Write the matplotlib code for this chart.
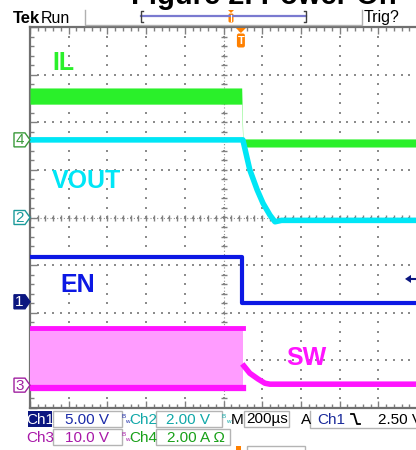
import numpy as np
import matplotlib
matplotlib.use('Agg')
import matplotlib.pyplot as plt
from matplotlib.patches import Polygon, Rectangle, FancyBboxPatch

# scope screen, values in divisions (x: 0..10 time div, y: -4..4 vertical div)
# IL (ch4) noisy band, top / bottom envelope
t_il = [0, 5.47, 5.50, 10]
il_top = [2.72, 2.72, 1.65, 1.65]
il_bot = [2.38, 2.38, 1.48, 1.48]

# VOUT (ch2)
t_vout = [0, 5.50, 5.68, 5.87, 6.02, 6.20, 6.33, 6.50, 10]
vout = [1.63, 1.63, 1.00, 0.58, 0.30, 0.05, -0.09, -0.06, -0.06]

# EN (ch1)
t_en = [0, 5.48, 5.48, 10]
en = [-0.82, -0.82, -1.80, -1.80]

# SW (ch3): switching band then decay
t_sw_band = [0, 5.50]
sw_top = [-2.32, -2.32]
sw_bot = [-3.58, -3.58]
t_sw_tail = [5.53, 5.68, 5.89, 6.07, 6.20, 10]
sw_tail = [-3.12, -3.27, -3.39, -3.48, -3.50, -3.50]

# channel ground markers (div) and trigger level
ch_names = ['1', '2', '3', '4']
ch_offsets = [-1.77, 0.0, -3.52, 1.63]
trig_level = -1.29
trig_pos = 5.45

labels = ['IL', 'VOUT', 'EN', 'SW']
label_pos = [(0.57, 3.25), (0.57, 0.77), (0.78, -1.41), (6.62, -2.94)]

c_il = '#2af02a'
c_vout = '#00e6f6'
c_en = '#0c18e4'
c_sw = '#ff14ff'
c_orange = '#ff8000'
narrow = ['Liberation Sans Narrow', 'Liberation Sans', 'DejaVu Sans']
sans = ['Liberation Sans', 'DejaVu Sans']

W, H = 416, 450
fig = plt.figure(figsize=(W / 100, H / 100), dpi=100)
fig.patch.set_facecolor('white')

ax = fig.add_axes([30 / W, 1 - 408 / H, 387 / W, 381 / H])
ax.set_xlim(0, 10)
ax.set_ylim(-4, 4)
for s in ['left', 'top', 'bottom']:
    ax.spines[s].set_color('#707070')
    ax.spines[s].set_linewidth(1.6)
ax.spines['right'].set_visible(False)
ax.set_xticks(np.arange(0, 10.01, 1))
ax.set_xticks(np.arange(0, 10.01, 0.2), minor=True)
ax.set_yticks(np.arange(-4, 4.01, 1))
ax.set_yticks(np.arange(-4, 4.01, 0.2), minor=True)
ax.tick_params(which='both', direction='in', top=True, bottom=True, left=True,
               right=False, labelbottom=False, labelleft=False, color='#808080', width=1)
ax.tick_params(which='major', length=5)
ax.tick_params(which='minor', length=3)

# dotted graticule
gx, gy = np.meshgrid(np.arange(1, 10), np.arange(-4, 4.01, 0.2))
ax.scatter(gx.ravel(), gy.ravel(), s=1.3, marker='s', color='#8c8c8c', lw=0, zorder=1)
gx, gy = np.meshgrid(np.arange(0, 10.01, 0.2), np.arange(-3, 4))
ax.scatter(gx.ravel(), gy.ravel(), s=1.3, marker='s', color='#8c8c8c', lw=0, zorder=1)
# centre crosshair
ax.axhline(0, ls=(0, (1, 2)), lw=0.8, color='#909090', zorder=1)
ax.axvline(5, ls=(0, (1, 2)), lw=0.8, color='#909090', zorder=1)
mx = np.arange(0, 10.01, 0.2)
ax.scatter(mx, np.zeros_like(mx), marker='|', s=14, color='#808080', lw=1, zorder=1)
my = np.arange(-4, 4.01, 0.2)
ax.scatter(np.full_like(my, 5), my, marker='_', s=14, color='#808080', lw=1, zorder=1)

# traces
ax.fill_between(t_il, il_bot, il_top, color=c_il, lw=0, zorder=3)
ax.plot(t_vout, vout, color=c_vout, lw=4, solid_joinstyle='round', zorder=4)
ax.plot(t_en, en, color=c_en, lw=3, zorder=4)
ax.fill_between(t_sw_band, sw_bot, sw_top, color='#ff9cff', lw=0, zorder=3)
ax.plot(t_sw_band, sw_top, color=c_sw, lw=3.5, zorder=4)
ax.plot(t_sw_band, sw_bot, color=c_sw, lw=4.5, zorder=4)
ax.plot(t_sw_tail, sw_tail, color=c_sw, lw=4, zorder=4)

for txt, (x, y), c in zip(labels, label_pos, [c_il, c_vout, c_en, c_sw]):
    ax.text(x, y, txt, color=c, fontsize=18, fontweight='bold', family=narrow,
            ha='left', va='center', zorder=6)

# overlay in pixel coords for the scope UI
ov = fig.add_axes([0, 0, 1, 1], zorder=5)
ov.set_xlim(0, W)
ov.set_ylim(H, 0)
ov.axis('off')
ov.patch.set_alpha(0)


def to_px(xd, yd):
    X, Y = ax.transData.transform((xd, yd))
    return X, H - Y


# channel markers
mk_style = {'1': ('#0b1680', '#0b1680', 'white'),
            '2': ('white', '#1a9a9a', '#1a9a9a'),
            '3': ('white', '#a020a0', '#a020a0'),
            '4': ('white', '#3a9a3a', '#3a9a3a')}
for name, off in zip(ch_names, ch_offsets):
    _, py = to_px(0, off)
    fc, ec, tc = mk_style[name]
    ov.add_patch(Polygon([(14, py - 7), (25, py - 7), (30, py), (25, py + 7), (14, py + 7)],
                         closed=True, fc=fc, ec=ec, lw=1))
    ov.text(19.5, py + 0.5, name, color=tc, fontsize=11, family=sans, ha='center', va='center')

# trigger level arrow on right
_, ty = to_px(0, trig_level)
ov.add_patch(Polygon([(405, ty), (411, ty - 4), (411, ty + 4)], closed=True, fc='#0b1680', ec='none'))
ov.plot([410, 416], [ty, ty], color='#0b1680', lw=1.5)

# trigger position marker under top border
tx, _ = to_px(trig_pos, 0)
ov.add_patch(Polygon([(tx - 5, 28), (tx + 5, 28), (tx, 33)], closed=True, fc=c_orange, ec='none'))
ov.add_patch(FancyBboxPatch((tx - 3.5, 34), 7, 13, boxstyle='round,pad=0.5,rounding_size=2',
                            fc=c_orange, ec='none'))
ov.text(tx, 41, 'T', color='white', fontsize=8, fontweight='bold', family=sans,
        ha='center', va='center')

# header
fig.text(264 / W, 1 - 4.5 / H, 'Figure 2. Power On', ha='center', va='baseline',
         fontsize=21, fontweight='bold', family=sans)
ov.text(13, 23, 'Tek', fontsize=12, fontweight='bold', family=narrow, va='baseline')
ov.text(41, 23, 'Run', fontsize=11.5, family=narrow, va='baseline')
ov.plot([85, 85, 362, 362], [10, 24.5, 24.5, 10], color='#b0b0b0', lw=1)
ov.plot([141, 306], [16, 16], color='#7a7ad0', lw=1.6)
ov.plot([143, 141, 141, 143], [11, 11, 22, 22], color='#404040', lw=1)
ov.plot([304, 306, 306, 304], [11, 11, 22, 22], color='#404040', lw=1)
ov.add_patch(Polygon([(228, 10), (234, 10), (231, 13)], closed=True, fc=c_orange, ec='none'))
ov.add_patch(FancyBboxPatch((229, 14), 4, 8, boxstyle='round,pad=0.5,rounding_size=1.5',
                            fc=c_orange, ec='none'))
ov.plot([231, 231], [15, 21], color='white', lw=0.8)
ov.text(364, 22, 'Trig?', fontsize=11.5, family=narrow, va='baseline')

# status bar
box_ec = '#b4b4b4'
fs = 11
y1, y2 = 419.5, 437.5
ov.add_patch(Rectangle((28, 411), 24, 16, fc='#0b1680', ec='none'))
ov.text(40, y1, 'Ch1', color='white', fontsize=fs, family=narrow, ha='center', va='center')
ov.add_patch(Rectangle((53, 411), 69, 16, fc='none', ec=box_ec, lw=1))
ov.text(87, y1, '5.00 V', color='#1a2aa8', fontsize=fs, family=narrow, ha='center', va='center')
ov.text(123.5, y1 - 3, 'B', color='#1a2aa8', fontsize=4.5, family=sans, ha='center', va='center')
ov.text(127, y1 + 2, 'w', color='#1a2aa8', fontsize=4.5, family=sans, ha='center', va='center')
ov.text(143, y1, 'Ch2', color='#10a8a8', fontsize=fs, family=narrow, ha='center', va='center')
ov.add_patch(Rectangle((156, 411), 66, 16, fc='none', ec=box_ec, lw=1))
ov.text(188, y1, '2.00 V', color='#10a8a8', fontsize=fs, family=narrow, ha='center', va='center')
ov.text(224, y1 - 3, 'B', color='#10a8a8', fontsize=4.5, family=sans, ha='center', va='center')
ov.text(228, y1 + 2, 'w', color='#10a8a8', fontsize=4.5, family=sans, ha='center', va='center')
ov.text(237.5, y1, 'M', fontsize=fs, family=narrow, ha='center', va='center')
ov.add_patch(Rectangle((244, 411), 45, 16, fc='none', ec=box_ec, lw=1))
ov.text(267, y1, '200µs', fontsize=fs, family=narrow, ha='center', va='center')
ov.text(306, y1, 'A', fontsize=fs, family=narrow, ha='center', va='center')
ov.plot([310, 310, 417], [411, 428, 428], color=box_ec, lw=1)
ov.text(331, y1, 'Ch1', color='#1a2a9a', fontsize=fs, family=narrow, ha='center', va='center')
ov.plot([351, 354, 357, 360], [414, 414, 424, 424], color='black', lw=1.3)
ov.text(378, y1, '2.50 V', fontsize=fs, family=narrow, ha='left', va='center')

ov.text(40, y2, 'Ch3', color='#a818a8', fontsize=fs, family=narrow, ha='center', va='center')
ov.add_patch(Rectangle((53, 429), 69, 16, fc='none', ec=box_ec, lw=1))
ov.text(87, y2, '10.0 V', color='#a818a8', fontsize=fs, family=narrow, ha='center', va='center')
ov.text(123.5, y2 - 3, 'B', color='#a818a8', fontsize=4.5, family=sans, ha='center', va='center')
ov.text(127, y2 + 2, 'w', color='#a818a8', fontsize=4.5, family=sans, ha='center', va='center')
ov.text(143, y2, 'Ch4', color='#18a018', fontsize=fs, family=narrow, ha='center', va='center')
ov.add_patch(Rectangle((156, 429), 74, 16, fc='none', ec=box_ec, lw=1))
ov.text(196, y2, '2.00 A Ω', color='#18a018', fontsize=fs, family=narrow, ha='center', va='center')
ov.add_patch(Rectangle((236, 446), 5, 5, fc=c_orange, ec='none'))
ov.add_patch(Rectangle((247, 446), 58, 8, fc='none', ec=box_ec, lw=1))

fig.savefig('out.png', dpi=100)
